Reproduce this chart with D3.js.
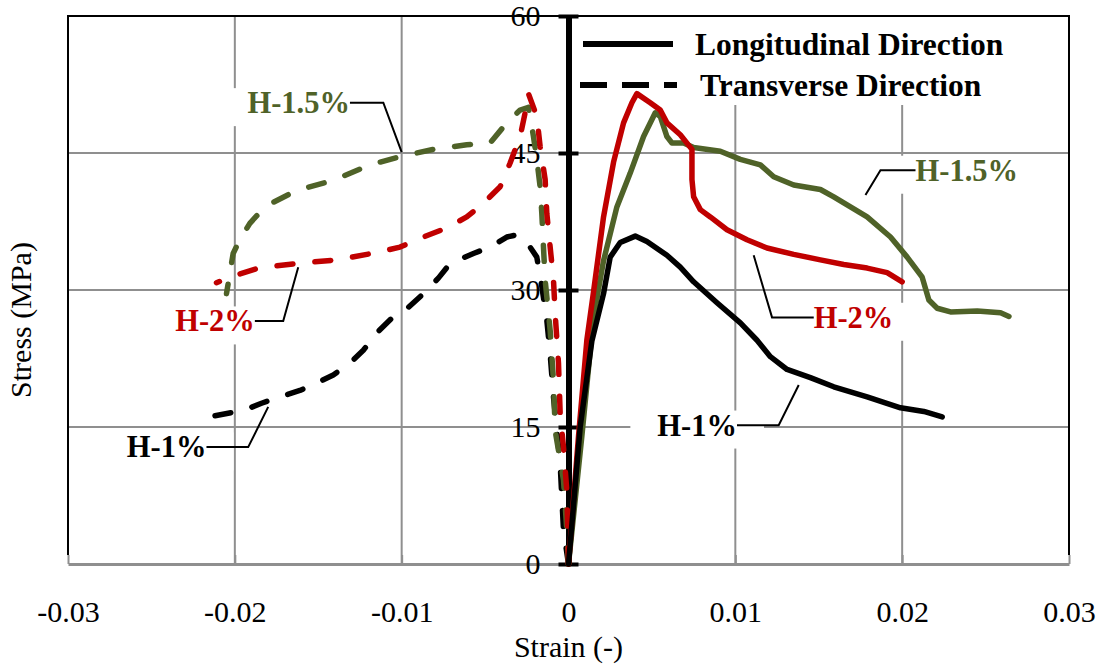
<!DOCTYPE html>
<html>
<head>
<meta charset="utf-8">
<script src="https://cdn.jsdelivr.net/npm/d3@7"></script>
<style>
  html, body { margin: 0; padding: 0; background: #fff; }
  svg { display: block; }
  text { font-family: "Liberation Serif", "Times New Roman", Times, serif; }
</style>
</head>
<body>
<svg id="chart" width="1107" height="667"></svg>
<script>
// ---------------- DATA ----------------
const xTicks = [-0.03, -0.02, -0.01, 0, 0.01, 0.02, 0.03];
const xTickLabels = ["-0.03", "-0.02", "-0.01", "0", "0.01", "0.02", "0.03"];
const yTicks = [0, 15, 30, 45, 60];
const yTickLabels = ["0", "15", "30", "45", "60"];

// Longitudinal direction (solid) [strain, stress MPa]
const longH1 = [[0,0],[0.0007,15],[0.0014,24.4],[0.0021,29.6],[0.0025,33.6],[0.0031,35.2],[0.0040,35.9],[0.0047,35.3],[0.0059,33.8],[0.0067,32.5],[0.0075,30.9],[0.0089,28.6],[0.0103,26.4],[0.0113,24.5],[0.0121,22.7],[0.0131,21.3],[0.0145,20.4],[0.0159,19.4],[0.0179,18.3],[0.0199,17.1],[0.0213,16.7],[0.0224,16.1]];
const longH15 = [[0,0],[0.0008,14],[0.0015,27.0],[0.0021,33.2],[0.0029,39.1],[0.0037,42.8],[0.0045,46.8],[0.0052,49.4],[0.0055,49.0],[0.0059,46.8],[0.0062,46.1],[0.0069,46.1],[0.0075,45.6],[0.0091,45.2],[0.0103,44.3],[0.0115,43.7],[0.0123,42.4],[0.0135,41.5],[0.0151,41.0],[0.0159,40.2],[0.0179,38.0],[0.0193,35.8],[0.0203,33.6],[0.0212,31.4],[0.0216,28.9],[0.0221,28.0],[0.0229,27.6],[0.0245,27.7],[0.0259,27.5],[0.0264,27.1]];
const longH2 = [[0,0],[0.0006,14],[0.0011,24.5],[0.0015,29.8],[0.0021,38.0],[0.0027,44.0],[0.0033,48.3],[0.0038,50.5],[0.0041,51.5],[0.0049,50.5],[0.0055,49.7],[0.0059,48.3],[0.0067,47.0],[0.0074,45.4],[0.0074,42.1],[0.0075,40.2],[0.0079,38.8],[0.0085,38.0],[0.0095,36.6],[0.0107,35.5],[0.0119,34.6],[0.0135,33.9],[0.0151,33.3],[0.0165,32.8],[0.0179,32.4],[0.0191,31.9],[0.0200,30.9]];

// Transverse direction (dashed)
const transH1 = [[0,0],[-0.0003,3.7],[-0.0004,7.3],[-0.0005,11.0],[-0.0007,14.6],[-0.0009,18.3],[-0.0011,23.0],[-0.0013,26.7],[-0.0016,30.4],[-0.0019,33.6],[-0.0026,35.5],[-0.0032,36.0],[-0.0037,35.8],[-0.0047,34.7],[-0.0057,34.0],[-0.0071,32.9],[-0.0078,31.3],[-0.0087,29.6],[-0.0096,28.1],[-0.0106,26.9],[-0.0115,25.3],[-0.0123,23.4],[-0.0131,22.0],[-0.0141,20.7],[-0.0151,19.8],[-0.0161,19.0],[-0.0173,18.3],[-0.0184,17.6],[-0.0195,16.8],[-0.0216,16.1]];
const transH15 = [[0,0],[-0.0001,3.7],[-0.0003,9.2],[-0.0008,14.6],[-0.0009,20.1],[-0.0011,25.6],[-0.0014,31.1],[-0.0015,34.7],[-0.0016,38.4],[-0.0017,41.3],[-0.0019,44.3],[-0.0021,46.8],[-0.0024,50.0],[-0.0029,49.7],[-0.0037,48.3],[-0.0047,46.1],[-0.0061,45.9],[-0.0081,45.4],[-0.0101,44.6],[-0.0119,43.7],[-0.0141,42.0],[-0.0163,40.9],[-0.0177,39.6],[-0.0185,38.5],[-0.0191,37.3],[-0.0197,35.5],[-0.0201,34.0],[-0.0205,29.6]];
const transH2 = [[0,0],[-0.0001,8.0],[-0.0003,12.8],[-0.0005,16.5],[-0.0006,22.0],[-0.0008,27.4],[-0.0009,31.1],[-0.0011,34.7],[-0.0013,38.4],[-0.0014,42.1],[-0.0017,45.7],[-0.0019,49.0],[-0.0024,51.5],[-0.0026,49.4],[-0.0029,46.8],[-0.0035,43.9],[-0.0041,41.3],[-0.0051,39.5],[-0.0061,38.0],[-0.0073,36.8],[-0.0087,35.8],[-0.0101,34.7],[-0.0115,34.1],[-0.0139,33.3],[-0.0163,32.9],[-0.0186,32.4],[-0.0203,31.4],[-0.0211,30.8]];

const seriesNames = ["H-1%", "H-1.5%", "H-2%"];
const seriesColors = ["#000000", "#4f6228", "#c00000"];

const legendLabels = ["Longitudinal Direction", "Transverse Direction"];

// Annotations: label text, colour index, anchor, text point, elbow, tip (data coords)
const annotations = [
  {t: "H-1.5%", c: 1, a: "end",   p: [-0.0131, 50.5], e: [-0.0111, 50.5], k: [-0.0100, 45.1]},
  {t: "H-2%",   c: 2, a: "end",   p: [-0.0188, 26.6], e: [-0.0171, 26.6], k: [-0.0162, 32.5]},
  {t: "H-1%",   c: 0, a: "end",   p: [-0.0217, 12.8], e: [-0.0192, 12.8], k: [-0.0180, 17.2]},
  {t: "H-1.5%", c: 1, a: "start", p: [0.0208, 43.1],  e: [0.0187, 43.1],  k: [0.0178, 40.4]},
  {t: "H-2%",   c: 2, a: "start", p: [0.0147, 27.0],  e: [0.0122, 27.0],  k: [0.0111, 33.8]},
  {t: "H-1%",   c: 0, a: "end",   p: [0.0101, 15.2],  e: [0.0126, 15.2],  k: [0.0138, 19.6]}
];

// ---------------- CHART ----------------
const FONT = '"Liberation Serif", "Times New Roman", Times, serif';
const svg = d3.select("#chart").attr("font-family", FONT);
const L = 68, R = 1069, T = 16, B = 564;
const x = d3.scaleLinear().domain([-0.03, 0.03]).range([L, R]);
const y = d3.scaleLinear().domain([0, 60]).range([B, T]);
const grid = "#8f8f8f";

// gridlines
svg.append("g").selectAll("line").data(xTicks.filter(v => v !== 0 && Math.abs(v) < 0.029))
  .join("line").attr("x1", d => x(d)).attr("x2", d => x(d)).attr("y1", T).attr("y2", B)
  .attr("stroke", grid).attr("stroke-width", 2);
svg.append("g").selectAll("line").data(yTicks.filter(v => v > 0 && v < 60))
  .join("line").attr("x1", L).attr("x2", R).attr("y1", d => y(d)).attr("y2", d => y(d))
  .attr("stroke", grid).attr("stroke-width", 2);

// plot border (left, top, right black)
svg.append("path").attr("d", `M${L},${B - 9}V${T}H${R}V${B - 9}`)
  .attr("fill", "none").attr("stroke", "#000").attr("stroke-width", 2);

// x axis
const xAxis = d3.axisBottom(x).tickValues(xTicks)
  .tickFormat((d, i) => xTickLabels[i]).tickSizeInner(-9).tickSizeOuter(0).tickPadding(37);
const gx = svg.append("g").attr("transform", `translate(0,${B})`).call(xAxis)
  .attr("font-family", FONT).attr("font-size", 30);
gx.select(".domain").attr("stroke", grid).attr("stroke-width", 3);
gx.selectAll(".tick line").attr("stroke", grid).attr("stroke-width", 2);
gx.selectAll(".tick text").attr("fill", "#000");

// white label boxes (legend + annotations)
svg.append("rect").attr("x", 573).attr("y", T + 1).attr("width", 475).attr("height", 88).attr("fill", "#fff");

const annG = svg.append("g");
const annTexts = annG.selectAll("text").data(annotations).join("text")
  .attr("x", d => x(d.p[0])).attr("y", d => y(d.p[1])).attr("dy", "0.34em")
  .attr("text-anchor", d => d.a).attr("font-size", 30.5).attr("font-weight", "bold")
  .attr("fill", d => seriesColors[d.c]).text(d => d.t);
annTexts.each(function() {
  const b = this.getBBox();
  annG.insert("rect", "text").attr("x", b.x - 27).attr("y", b.y + 2).attr("width", b.width + 54)
    .attr("height", b.height + 4).attr("fill", "#fff");
});

// y axis (at strain = 0)
const yAxis = d3.axisLeft(y).tickValues(yTicks).tickFormat((d, i) => yTickLabels[i])
  .tickSizeInner(0).tickSizeOuter(0).tickPadding(28);
const gy = svg.append("g").attr("transform", `translate(${x(0)},0)`).call(yAxis)
  .attr("font-family", FONT).attr("font-size", 30);
gy.select(".domain").attr("stroke", "#000").attr("stroke-width", 6);
gy.selectAll(".tick text").attr("fill", "#000").attr("dy", "0.33em");
gy.selectAll(".tick").append("line").attr("x1", -10).attr("x2", 10)
  .attr("stroke", "#000").attr("stroke-width", 4);

// curves
const line = d3.line().x(d => x(d[0])).y(d => y(d[1]));
const longSeries = [longH1, longH15, longH2];
const transSeries = [transH1, transH15, transH2];
svg.append("g").selectAll("path").data([0, 1, 2]).join("path")
  .attr("d", i => line(transSeries[i])).attr("fill", "none")
  .attr("stroke", i => seriesColors[i]).attr("stroke-width", 5.5)
  .attr("stroke-dasharray", "16,22").attr("stroke-linecap", "round").attr("stroke-linejoin", "round");
svg.append("g").selectAll("path").data([1, 2, 0]).join("path")
  .attr("d", i => line(longSeries[i])).attr("fill", "none")
  .attr("stroke", i => seriesColors[i]).attr("stroke-width", 5.5)
  .attr("stroke-linecap", "round").attr("stroke-linejoin", "round");

// leader lines
svg.append("g").selectAll("path").data(annotations).join("path")
  .attr("d", d => {
    const node = annTexts.filter(a => a === d).node().getBBox();
    const sx = (d.e[0] > d.p[0]) ? node.x + node.width : node.x;
    return `M${sx},${y(d.e[1])}L${x(d.e[0])},${y(d.e[1])}L${x(d.k[0])},${y(d.k[1])}`;
  })
  .attr("fill", "none").attr("stroke", "#000").attr("stroke-width", 2);

// legend
const lg = svg.append("g");
lg.append("line").attr("x1", 583).attr("x2", 673).attr("y1", 44).attr("y2", 44)
  .attr("stroke", "#000").attr("stroke-width", 6);
lg.append("line").attr("x1", 580).attr("x2", 677).attr("y1", 85).attr("y2", 85)
  .attr("stroke", "#000").attr("stroke-width", 6).attr("stroke-dasharray", "27,15");
lg.selectAll("text").data(legendLabels).join("text")
  .attr("x", (d, i) => i === 0 ? 695 : 700).attr("y", (d, i) => i === 0 ? 44 : 85).attr("dy", "0.34em")
  .attr("font-size", 31.5).attr("font-weight", "bold").attr("fill", "#000").text(d => d);

// axis titles
svg.append("text").attr("x", x(0)).attr("y", 657).attr("text-anchor", "middle")
  .attr("font-size", 30).text("Strain (-)");
svg.append("text").attr("transform", "translate(31,320) rotate(-90)").attr("text-anchor", "middle")
  .attr("font-size", 30).text("Stress (MPa)");
</script>
</body>
</html>
